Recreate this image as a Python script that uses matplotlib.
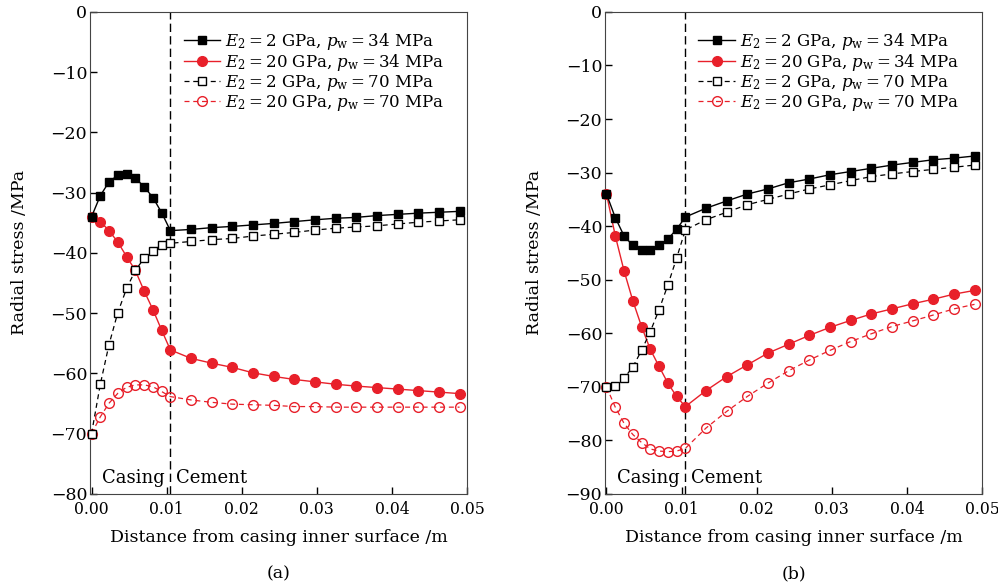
import numpy as np
import matplotlib.pyplot as plt

plt.rcParams['font.family'] = 'DejaVu Serif'
plt.rcParams['mathtext.fontset'] = 'dejavuserif'
plt.rcParams['font.size'] = 12.5

# distance from casing inner surface (m); casing 0-0.0105, cement beyond
x = [0.0, 0.00117, 0.00233, 0.0035, 0.00467, 0.00583, 0.007, 0.00817, 0.00933, 0.0105,
     0.01325, 0.016, 0.01875, 0.0215, 0.02425, 0.027, 0.02975, 0.0325, 0.03525,
     0.038, 0.04075, 0.0435, 0.04625, 0.049]
interface = 0.0105

# (a)
a_e2_34 = [-34.0, -30.5, -28.2, -27.1, -26.9, -27.6, -29.0, -30.8, -33.3, -36.3,
           -36.1, -35.8, -35.6, -35.35, -35.1, -34.8, -34.5, -34.25, -34.1, -33.8,
           -33.6, -33.4, -33.25, -33.1]
a_e20_34 = [-34.0, -34.8, -36.3, -38.2, -40.6, -42.9, -46.3, -49.4, -52.8, -56.1,
            -57.5, -58.3, -59.0, -59.9, -60.5, -61.0, -61.4, -61.8, -62.1, -62.35,
            -62.6, -62.85, -63.1, -63.35]
a_e2_70 = [-70.0, -61.8, -55.2, -49.9, -45.9, -42.9, -40.9, -39.6, -38.7, -38.4,
           -38.1, -37.8, -37.6, -37.2, -36.9, -36.6, -36.2, -35.9, -35.7, -35.5,
           -35.2, -34.9, -34.7, -34.5]
a_e20_70 = [-70.0, -67.2, -64.95, -63.3, -62.3, -61.9, -61.9, -62.2, -63.0, -63.85,
            -64.4, -64.8, -65.1, -65.2, -65.3, -65.5, -65.5, -65.6, -65.6, -65.6,
            -65.6, -65.6, -65.6, -65.6]

# (b)
b_e2_34 = [-34.0, -38.4, -41.8, -43.6, -44.4, -44.4, -43.6, -42.4, -40.6, -38.3,
           -36.65, -35.3, -34.0, -33.05, -31.9, -31.2, -30.4, -29.8, -29.2, -28.6,
           -28.1, -27.6, -27.3, -26.9]
b_e20_34 = [-34.0, -41.8, -48.3, -53.9, -58.75, -63.0, -66.2, -69.3, -71.8, -73.7,
            -70.7, -68.1, -65.9, -63.7, -62.05, -60.4, -58.9, -57.6, -56.4, -55.45,
            -54.5, -53.65, -52.7, -52.0]
b_e2_70 = [-70.0, -69.8, -68.4, -66.3, -63.2, -59.7, -55.6, -51.0, -46.0, -40.7,
           -38.8, -37.4, -36.0, -35.0, -34.0, -33.05, -32.3, -31.5, -30.75, -30.25,
           -29.8, -29.4, -29.0, -28.6]
b_e20_70 = [-70.0, -73.8, -76.8, -78.9, -80.4, -81.6, -82.0, -82.1, -82.0, -81.5,
            -77.7, -74.6, -71.8, -69.3, -67.0, -65.0, -63.2, -61.55, -60.1, -58.75,
            -57.7, -56.6, -55.45, -54.6]

labels = [r'$E_2 = 2$ GPa, $p_{\mathrm{w}} = 34$ MPa',
          r'$E_2 = 20$ GPa, $p_{\mathrm{w}} = 34$ MPa',
          r'$E_2 = 2$ GPa, $p_{\mathrm{w}} = 70$ MPa',
          r'$E_2 = 20$ GPa, $p_{\mathrm{w}} = 70$ MPa']
red = '#e8202a'

panels = [
    ([a_e2_34, a_e20_34, a_e2_70, a_e20_70], (-80, 0), '(a)', 0.0902),
    ([b_e2_34, b_e20_34, b_e2_70, b_e20_70], (-90, 0), '(b)', 0.6062),
]

fig = plt.figure(figsize=(9.98, 5.88), dpi=100)

for series, ylim, tag, left in panels:
    ax = fig.add_axes([left, 0.160, 0.3778, 0.8197])
    s1, s2, s3, s4 = series
    ax.plot(x, s1, '-', color='black', marker='s', ms=6, lw=1,
            label=labels[0], clip_on=False, zorder=4)
    ax.plot(x, s2, '-', color=red, marker='o', ms=7, lw=1,
            label=labels[1], clip_on=False, zorder=3)
    ax.plot(x, s3, '--', color='black', marker='s', ms=6, lw=0.9, dashes=(4, 3),
            mfc='white', label=labels[2], clip_on=False, zorder=5)
    ax.plot(x, s4, '--', color=red, marker='o', ms=7, lw=0.9, dashes=(4, 3),
            mfc='none', label=labels[3], clip_on=False, zorder=3)
    ax.axvline(interface, color='black', ls='--', lw=1, dashes=(6, 3), zorder=1)

    ax.set_xlim(-0.0002, 0.05)
    ax.set_ylim(*ylim)
    ax.set_xticks([0.0, 0.01, 0.02, 0.03, 0.04, 0.05])
    ax.set_xticklabels(['0.00', '0.01', '0.02', '0.03', '0.04', '0.05'])
    ax.set_yticks(np.arange(ylim[0], 1, 10))
    ax.tick_params(direction='in', length=5, width=1, top=False, right=False)
    ax.tick_params(axis='y', pad=2)
    ax.tick_params(axis='x', pad=5, labelsize=11.3)
    for sp in ax.spines.values():
        sp.set_color('#444444')

    ybase = ylim[0] + (ylim[1] - ylim[0]) * 0.023
    ax.text(interface - 0.0008, ybase, 'Casing', ha='right', va='baseline', fontsize=13)
    ax.text(interface + 0.0008, ybase, 'Cement', ha='left', va='baseline', fontsize=13)

    ax.set_xlabel('Distance from casing inner surface /m', labelpad=8)
    ax.set_ylabel('Radial stress /MPa', labelpad=16)
    ax.legend(loc='upper right', bbox_to_anchor=(0.94, 0.96), frameon=False,
              borderaxespad=0, borderpad=0, handlelength=2.2, handletextpad=0.3,
              labelspacing=0.0, fontsize=12)
    ax.text(0.5, -0.165, tag, transform=ax.transAxes, ha='center', va='center',
            fontsize=12.5)

fig.savefig('out.png', dpi=100)
